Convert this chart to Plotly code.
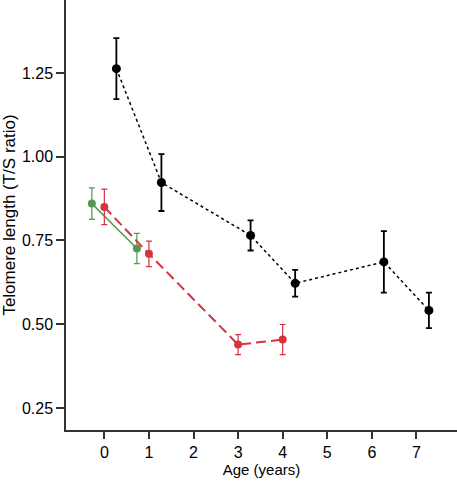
import plotly.graph_objects as go

# Data
black_age = [0.27, 1.28, 3.28, 4.28, 6.27, 7.28]
black_tl = [1.263, 0.923, 0.765, 0.622, 0.686, 0.541]
black_err = [0.091, 0.085, 0.045, 0.040, 0.092, 0.053]

red_age = [0.0, 1.0, 3.0, 4.0]
red_tl = [0.850, 0.710, 0.439, 0.454]
red_err = [0.053, 0.038, 0.030, 0.045]

green_age = [-0.28, 0.73]
green_tl = [0.860, 0.726]
green_err = [0.047, 0.045]

x_ticks = [0, 1, 2, 3, 4, 5, 6, 7]
y_ticks = [0.25, 0.50, 0.75, 1.00, 1.25]
y_tick_text = ["0.25", "0.50", "0.75", "1.00", "1.25"]

GREEN = "#4f9a52"
RED = "#d5343f"
BLACK = "#000000"

fig = go.Figure()

fig.add_trace(go.Scatter(
    x=green_age, y=green_tl, mode="lines+markers",
    line=dict(color=GREEN, width=1.5),
    marker=dict(color=GREEN, size=8),
    error_y=dict(type="data", array=green_err, color=GREEN, thickness=1.2, width=3),
    showlegend=False,
))

fig.add_trace(go.Scatter(
    x=red_age, y=red_tl, mode="lines+markers",
    line=dict(color=RED, width=2, dash="10px,5px"),
    marker=dict(color=RED, size=8),
    error_y=dict(type="data", array=red_err, color=RED, thickness=1.2, width=3),
    showlegend=False,
))

fig.add_trace(go.Scatter(
    x=black_age, y=black_tl, mode="lines+markers",
    line=dict(color=BLACK, width=1.5, dash="dot"),
    marker=dict(color=BLACK, size=9),
    error_y=dict(type="data", array=black_err, color=BLACK, thickness=1.8, width=3),
    showlegend=False,
))

tick_font = dict(family="Liberation Sans, Arial, sans-serif", size=16, color="#000000")
xt_font = dict(family="Liberation Sans, Arial, sans-serif", size=15, color="#000000")
yt_font = dict(family="Liberation Sans, Arial, sans-serif", size=17, color="#000000")

fig.update_layout(
    width=457, height=486,
    margin=dict(l=66, r=0, t=0, b=56),
    paper_bgcolor="white", plot_bgcolor="white",
    font=tick_font,
    xaxis=dict(
        range=[-0.86, 7.91], automargin=False,
        tickmode="array", tickvals=x_ticks,
        ticks="outside", ticklen=7, tickwidth=1.5, tickcolor="#333333",
        showgrid=False, zeroline=False,
        showline=True, linecolor="#333333", linewidth=1.5,
        title=dict(text="Age (years)", standoff=2, font=xt_font),
        tickfont=tick_font,
    ),
    yaxis=dict(
        range=[0.184, 1.468], automargin=False,
        tickmode="array", tickvals=y_ticks, ticktext=y_tick_text,
        ticks="outside", ticklen=8, tickwidth=1.5, tickcolor="#333333",
        showgrid=False, zeroline=False,
        showline=True, linecolor="#333333", linewidth=1.5,
        title=dict(text="Telomere length (T/S ratio)", standoff=4, font=yt_font),
        tickfont=tick_font,
    ),
)

fig.write_html(
    "out.html",
    config={"displayModeBar": False},
    post_script="document.body.style.margin='0';document.body.style.padding='0';",
)
